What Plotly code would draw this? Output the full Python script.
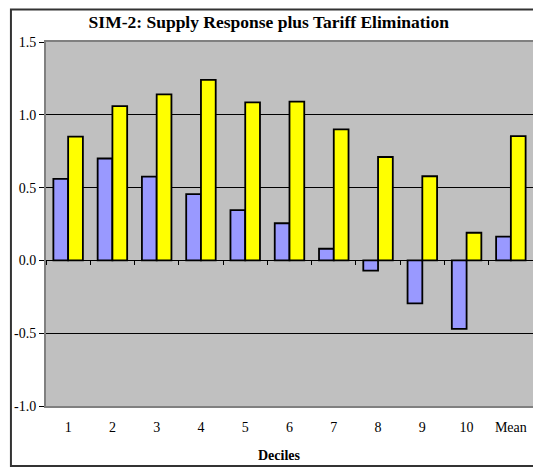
import plotly.graph_objects as go

# deciles on the x axis
deciles = ["1", "2", "3", "4", "5", "6", "7", "8", "9", "10", "Mean"]

# two series
series_a = [0.56, 0.70, 0.575, 0.455, 0.345, 0.255, 0.08, -0.07, -0.295, -0.47, 0.163]
series_b = [0.85, 1.06, 1.14, 1.24, 1.085, 1.09, 0.90, 0.71, 0.578, 0.19, 0.854]

# y axis ticks (plain hyphen, like the original)
y_ticks = [-1.0, -0.5, 0.0, 0.5, 1.0, 1.5]
y_tick_labels = ["-1.0", "-0.5", "0.0", "0.5", "1.0", "1.5"]

y_min, y_max = -1.0, 1.5
serif = "Liberation Serif, Times New Roman, serif"

fig = go.Figure()
fig.add_trace(go.Bar(x=deciles, y=series_a, name="A",
                     marker=dict(color="#9999FF", line=dict(color="black", width=1.8))))
fig.add_trace(go.Bar(x=deciles, y=series_b, name="B",
                     marker=dict(color="#FFFF00", line=dict(color="black", width=1.8))))

# where the zero line sits inside the plot area (paper coords)
zero_pos = (0 - y_min) / (y_max - y_min)

# note: the page body has an 8px margin, so margins are shifted by 8
fig.update_layout(
    width=541, height=468,
    margin=dict(l=38, r=16, t=34, b=70),
    paper_bgcolor="white",
    plot_bgcolor="#C0C0C0",
    showlegend=False,
    barmode="group",
    bargap=1/3, bargroupgap=0,
    font=dict(family=serif, size=14, color="black"),
    title=dict(text="<b>SIM-2: Supply Response plus Tariff Elimination</b>",
               x=0.482, xanchor="center", y=0.970, yanchor="middle",
               font=dict(family=serif, size=17.5, color="black")),
    xaxis=dict(showgrid=False, showline=True, linecolor="#808080", linewidth=2,
               mirror=True, ticks="", automargin=False, ticklabelstandoff=7,
               tickfont=dict(size=14)),
    xaxis2=dict(overlaying="x", matches="x", anchor="free", position=zero_pos,
                side="bottom", showline=True, linecolor="black", linewidth=1,
                ticks="outside", tickson="boundaries", ticklen=4, tickcolor="black",
                showticklabels=False, showgrid=False, automargin=False),
    yaxis=dict(range=[y_min, y_max], tickvals=y_ticks, ticktext=y_tick_labels,
               showgrid=True, gridcolor="black", gridwidth=1,
               zeroline=False, showline=True, linecolor="#808080", linewidth=2,
               mirror=True, ticks="outside", ticklen=5, tickcolor="black",
               automargin=False, tickfont=dict(size=14)),
)

# dummy trace so the zero-crossing axis gets drawn
fig.add_trace(go.Bar(x=deciles, y=[None] * len(deciles), xaxis="x2",
                     showlegend=False, hoverinfo="skip"))

fig.add_annotation(text="<b>Deciles</b>", xref="paper", yref="paper",
                   x=0.48, y=-0.137, xanchor="center", yanchor="middle",
                   showarrow=False, font=dict(family=serif, size=14))

# outer chart-area border
fig.add_shape(type="rect", xref="paper", yref="paper",
              x0=-0.072, x1=1.05, y0=-0.165, y1=1.089,
              line=dict(color="#333333", width=2), layer="above")

fig.write_html("out.html")
